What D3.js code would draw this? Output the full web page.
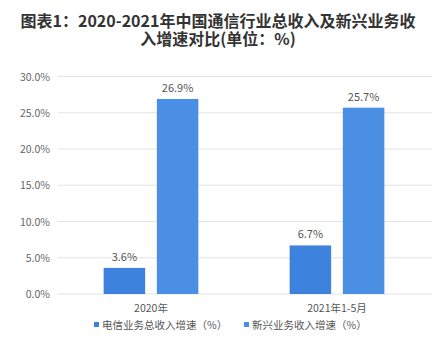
<!DOCTYPE html>
<html>
<head>
<meta charset="utf-8">
<script src="https://cdn.jsdelivr.net/npm/d3@7"></script>
<style>
  body { margin: 0; background: #fff; }
  text { font-family: "Noto Sans CJK SC", "Noto Sans", sans-serif; }
</style>
</head>
<body>
<div class="container"></div>
<script>
const categories = ['2020年', '2021年1-5月']
const seriesNames = ['电信业务总收入增速（%）', '新兴业务收入增速（%）']
const telecomGrowth = [3.6, 6.7]
const emergingGrowth = [26.9, 25.7]
const yTicks = [0, 5, 10, 15, 20, 25, 30]

const width = 434
const height = 348
const colors = ['#3d82dc', '#4a8fe3']

const svg = d3.select('.container').append('svg')
  .attr('width', width)
  .attr('height', height)

// title
const title = svg.append('text')
  .attr('text-anchor', 'middle')
  .attr('font-size', 16)
  .attr('font-weight', 'bold')
  .attr('fill', '#333')
title.append('tspan').attr('x', 218).attr('y', 27)
  .text('图表1：2020-2021年中国通信行业总收入及新兴业务收')
title.append('tspan').attr('x', 218).attr('y', 45)
  .text('入增速对比(单位：%)')

const x = d3.scaleBand()
  .domain(categories)
  .range([58, 430])

const y = d3.scaleLinear()
  .domain([0, 30])
  .range([294, 76.5])

// gridlines
svg.selectAll('.grid')
  .data(yTicks)
  .enter()
  .append('line')
  .attr('x1', 58)
  .attr('x2', 432)
  .attr('y1', d => y(d))
  .attr('y2', d => y(d))
  .attr('stroke', '#e3e3e3')
  .attr('stroke-width', 1)

svg.selectAll('.ytick')
  .data(yTicks)
  .enter()
  .append('text')
  .attr('x', 50)
  .attr('y', d => y(d) + 4)
  .attr('text-anchor', 'end')
  .attr('font-size', 10.5)
  .attr('fill', '#666')
  .text(d => d3.format('.1f')(d) + '%')

const inner = d3.scaleBand()
  .domain([0, 1])
  .range([0, 94.7])
  .paddingInner(0.22)

const rows = []
categories.forEach((c, i) => {
  rows.push({ cat: c, s: 0, v: telecomGrowth[i] })
  rows.push({ cat: c, s: 1, v: emergingGrowth[i] })
})

const barX = d => x(d.cat) + x.bandwidth() / 2 - 47.35 + inner(d.s)

svg.selectAll('rect')
  .data(rows)
  .enter()
  .append('rect')
  .attr('x', barX)
  .attr('y', d => y(d.v))
  .attr('width', inner.bandwidth())
  .attr('height', d => y(0) - y(d.v))
  .attr('fill', d => colors[d.s])

svg.selectAll('.vlabel')
  .data(rows)
  .enter()
  .append('text')
  .attr('x', d => barX(d) + inner.bandwidth() / 2)
  .attr('y', d => y(d.v) - 7)
  .attr('text-anchor', 'middle')
  .attr('font-size', 11)
  .attr('fill', '#555')
  .text(d => d3.format('.1f')(d.v) + '%')

// category labels
svg.selectAll('.cat')
  .data(categories)
  .enter()
  .append('text')
  .attr('x', d => x(d) + x.bandwidth() / 2)
  .attr('y', 312)
  .attr('text-anchor', 'middle')
  .attr('font-size', 10.5)
  .attr('fill', '#555')
  .text(d => d)

// legend
const legendX = [94, 244]
seriesNames.forEach((name, i) => {
  svg.append('rect')
    .attr('x', legendX[i])
    .attr('y', 322)
    .attr('width', 5)
    .attr('height', 5)
    .attr('fill', colors[i])
  svg.append('text')
    .attr('x', legendX[i] + 8)
    .attr('y', 329)
    .attr('font-size', 10.5)
    .attr('fill', '#555')
    .text(name)
})
</script>
</body>
</html>
